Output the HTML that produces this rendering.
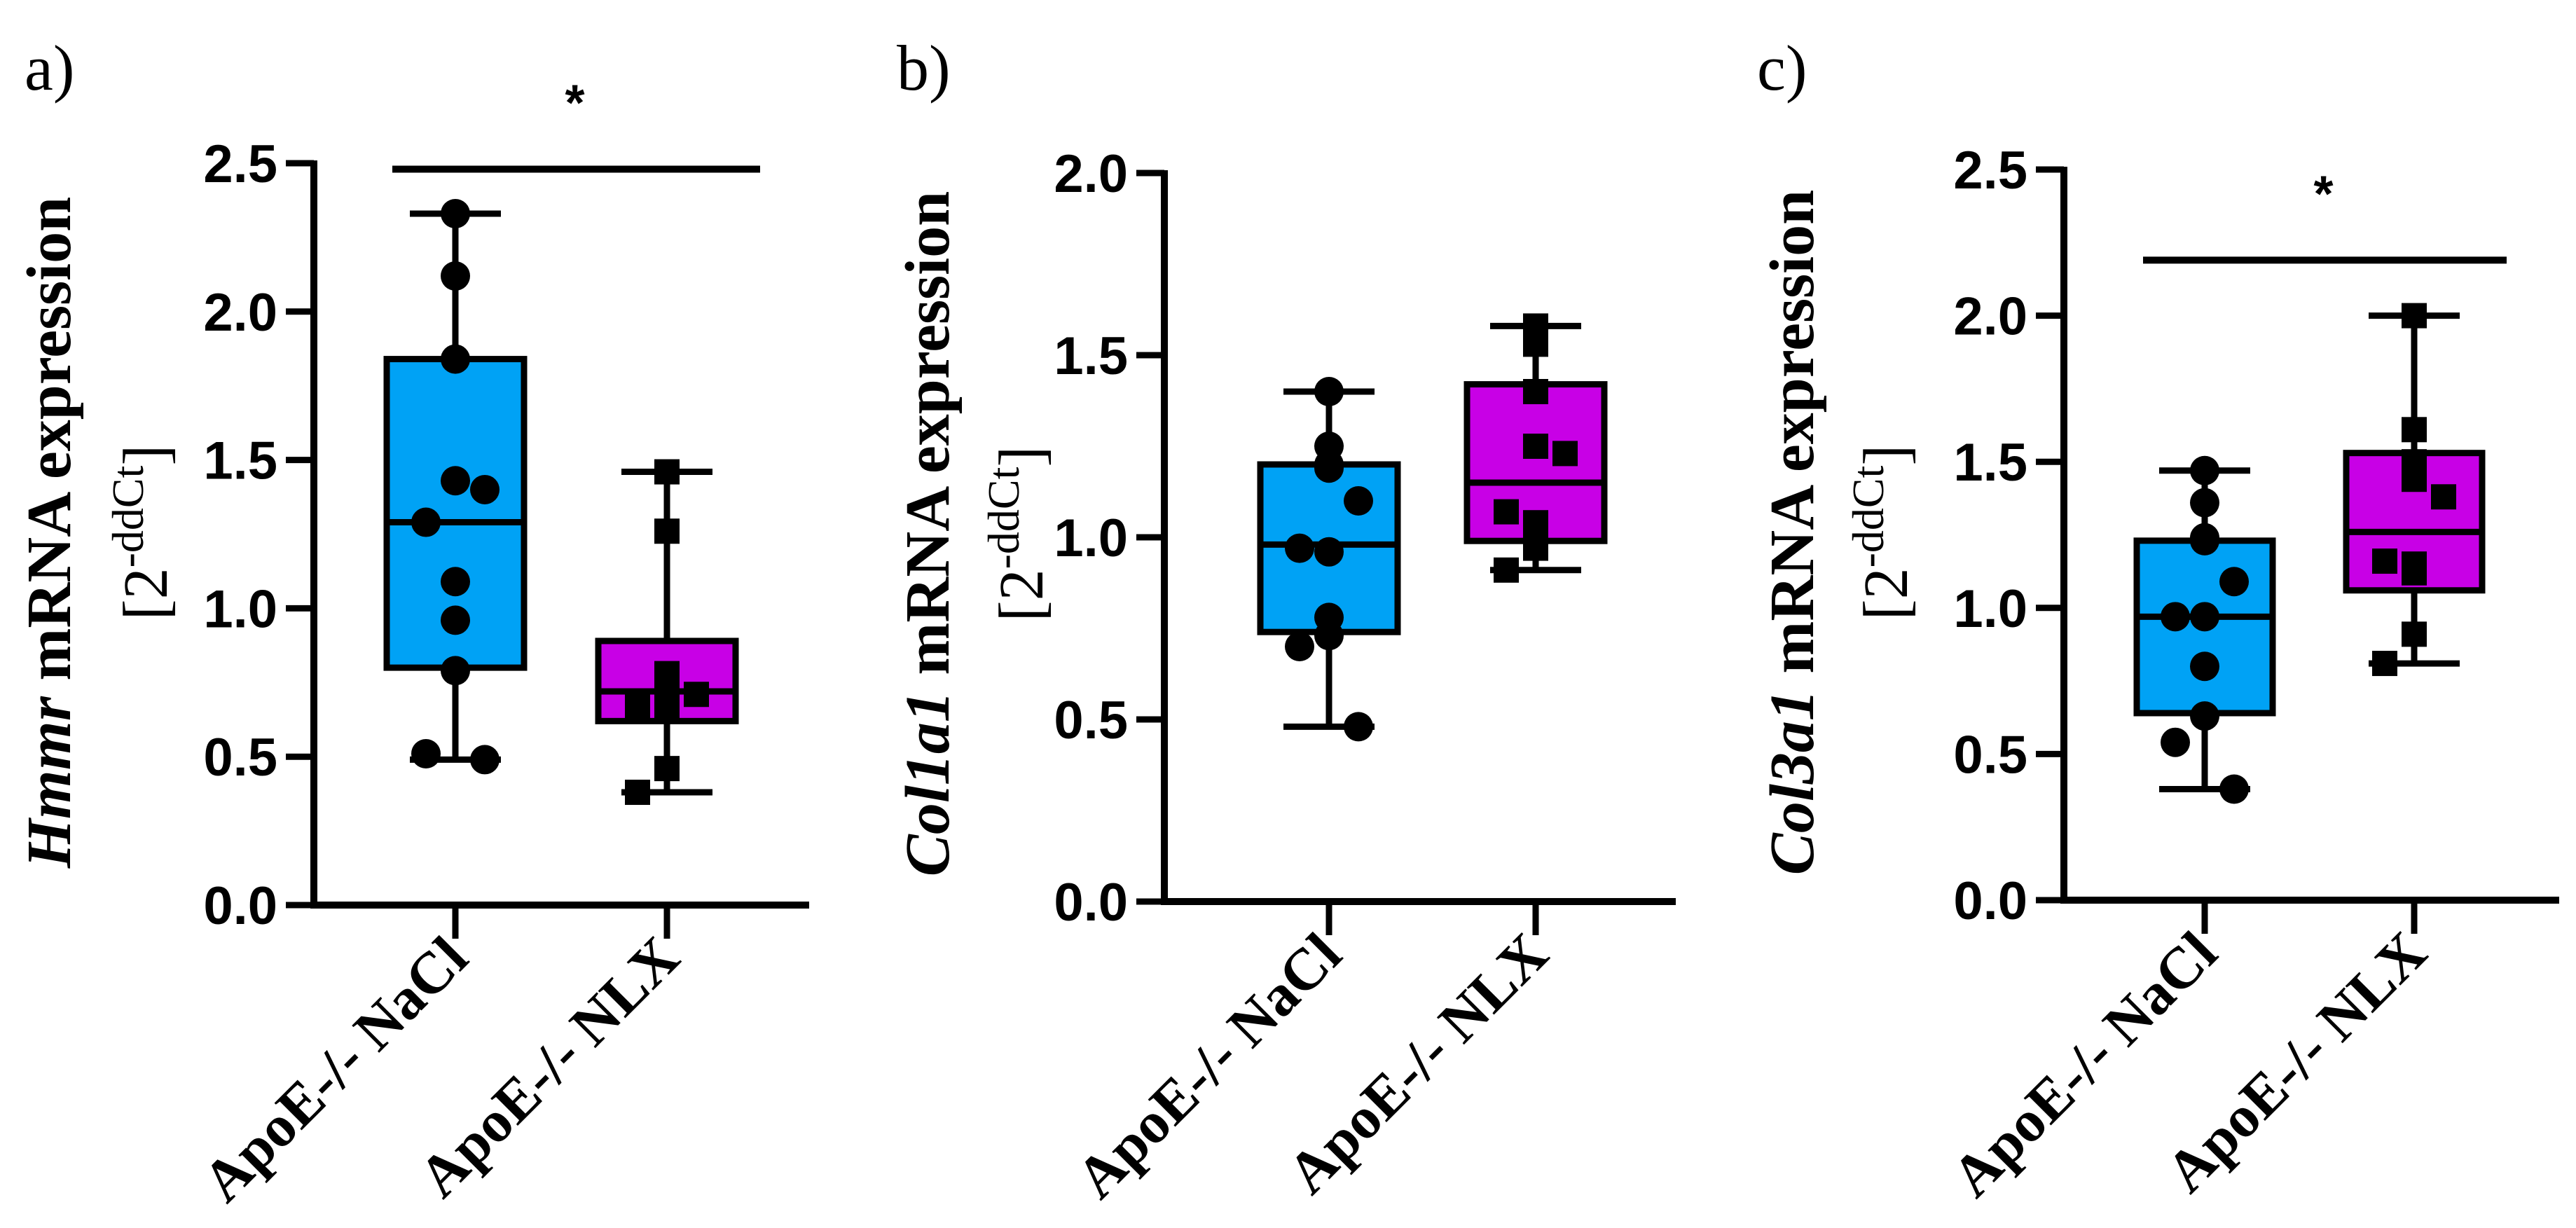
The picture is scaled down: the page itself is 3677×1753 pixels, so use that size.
<!DOCTYPE html>
<html><head><meta charset="utf-8">
<style>
html,body{margin:0;padding:0;background:#fff;}
svg{display:block;}
</style></head>
<body>
<svg id="fig" xmlns="http://www.w3.org/2000/svg" width="3677" height="1753" viewBox="0 0 3677 1753"></svg>
<script>
// ---- data ----
const categories = ["ApoE-/- NaCl", "ApoE-/- NLX"];
const panelLetters = ["a)", "b)", "c)"];
const geneNames = ["Hmmr", "Col1a1", "Col3a1"];
const yMaxes = [2.5, 2.0, 2.5];
const ticksA = ["0.0","0.5","1.0","1.5","2.0","2.5"];
const ticksB = ["0.0","0.5","1.0","1.5","2.0"];
const ticksC = ["0.0","0.5","1.0","1.5","2.0","2.5"];
// box stats: [whiskerLow, Q1, median, Q3, whiskerHigh]
const boxA_NaCl = [0.49, 0.80, 1.29, 1.84, 2.33];
const boxA_NLX  = [0.38, 0.62, 0.72, 0.89, 1.46];
const boxB_NaCl = [0.48, 0.74, 0.98, 1.20, 1.40];
const boxB_NLX  = [0.91, 0.99, 1.15, 1.42, 1.58];
const boxC_NaCl = [0.38, 0.64, 0.97, 1.23, 1.47];
const boxC_NLX  = [0.81, 1.06, 1.26, 1.53, 2.00];
// individual points
const ptsA_NaCl = [2.33, 2.12, 1.84, 1.43, 1.40, 1.29, 1.09, 0.96, 0.79, 0.51, 0.49];
const ptsA_NLX  = [1.46, 1.26, 0.78, 0.74, 0.71, 0.67, 0.67, 0.67, 0.46, 0.38];
const ptsB_NaCl = [1.40, 1.25, 1.20, 1.19, 1.10, 0.97, 0.96, 0.78, 0.73, 0.70, 0.48];
const ptsB_NLX  = [1.58, 1.53, 1.40, 1.25, 1.23, 1.07, 1.04, 1.00, 0.97, 0.91];
const ptsC_NaCl = [1.47, 1.36, 1.24, 1.23, 1.09, 0.97, 0.97, 0.80, 0.63, 0.54, 0.38];
const ptsC_NLX  = [2.00, 1.61, 1.50, 1.44, 1.38, 1.16, 1.15, 1.12, 0.91, 0.81];
// significance bars: [value, show]
const sigA = [2.48, 1];
const sigB = [0, 0];
const sigC = [2.19, 1];

// ---- layout ----
const NS = "http://www.w3.org/2000/svg";
const svg = document.getElementById("fig");
const layouts = [
  {ax:448, y0:1292, yTop:233, xEnd:1155, c1:650, c2:952, bw:196, letterX:35, t1:100, t2:238, cy:760, sigX1:560, sigX2:1085},
  {ax:1662, y0:1287, yTop:247, xEnd:2392, c1:1897, c2:2192, bw:196, letterX:1280, t1:1354, t2:1488, cy:762, sigX1:0, sigX2:0},
  {ax:2946, y0:1285, yTop:242, xEnd:3653, c1:3147, c2:3446, bw:194, letterX:2508, t1:2588, t2:2722, cy:760, sigX1:3059, sigX2:3578}
];
const panels = [
  {ticks:ticksA, boxes:[boxA_NaCl, boxA_NLX], pts:[ptsA_NaCl, ptsA_NLX], sig:sigA},
  {ticks:ticksB, boxes:[boxB_NaCl, boxB_NLX], pts:[ptsB_NaCl, ptsB_NLX], sig:sigB},
  {ticks:ticksC, boxes:[boxC_NaCl, boxC_NLX], pts:[ptsC_NaCl, ptsC_NLX], sig:sigC}
];
const fills = ["#00A2F5", "#C800E6"];

function mk(tag, attrs, parent){
  const e = document.createElementNS(NS, tag);
  for (const k in attrs) e.setAttribute(k, attrs[k]);
  (parent||svg).appendChild(e);
  return e;
}
const jit = [0, 0, 0, 0, 1, -1, 0, 0, 0, -1, 1, 0];

panels.forEach((p, pi) => {
  const L = layouts[pi];
  const g = mk("g", {});
  
  
  const yScale = v => L.y0 - (v / yMaxes[pi]) * (L.y0 - L.yTop);

  // panel letter
  const lt = mk("text", {x:L.letterX, y:128, "font-family":"Liberation Serif, serif", "font-size":92}, g);
  lt.textContent = panelLetters[pi];
  
  

  // y title
  const tt = mk("text", {transform:`translate(${L.t1},${L.cy}) rotate(-90)`, "text-anchor":"middle", "font-family":"Liberation Serif, serif", "font-size":90, "font-weight":"bold"}, g);
  
  
  const ts1 = mk("tspan", {"font-style":"italic"}, tt); ts1.textContent = geneNames[pi];
  const ts2 = mk("tspan", {}, tt); ts2.textContent = " mRNA expression";
  const tu = mk("text", {transform:`translate(${L.t2},${L.cy}) rotate(-90)`, "text-anchor":"middle", "font-family":"Liberation Serif, serif", "font-size":90}, g);
  
  
  const u1 = mk("tspan", {}, tu); u1.textContent = "[2";
  const u2 = mk("tspan", {dy:-34, "font-size":64}, tu); u2.textContent = "-ddCt";
  const u4 = mk("tspan", {dy:34}, tu); u4.textContent = "]";

  // y axis
  const yAxis = mk("line", {x1:L.ax, y1:L.yTop-4, x2:L.ax, y2:L.y0+5, stroke:"#000", "stroke-width":10}, g);
  
  
  p.ticks.forEach(t => {
    const y = yScale(parseFloat(t));
    const tk = mk("line", {x1:L.ax-40, y1:y, x2:L.ax, y2:y, stroke:"#000", "stroke-width":9}, g);
    
    
    const tl = mk("text", {x:L.ax-52, y:y+27, "text-anchor":"end", "font-family":"Liberation Sans, sans-serif", "font-weight":"bold", "font-size":76}, g);
    tl.textContent = t;
    
    
  });
  // x axis
  const xAxis = mk("line", {x1:L.ax-5, y1:L.y0, x2:L.xEnd, y2:L.y0, stroke:"#000", "stroke-width":10}, g);
  
  

  const cxs = [L.c1, L.c2];
  categories.forEach((c, ci) => {
    const cx = cxs[ci];
    const xt = mk("line", {x1:cx, y1:L.y0, x2:cx, y2:L.y0+48, stroke:"#000", "stroke-width":9}, g);
    
    
    const xl = mk("text", {transform:`translate(${cx+22},${L.y0+80}) rotate(-45)`, "text-anchor":"end", "font-family":"Liberation Serif, serif", "font-weight":"bold", "font-size":84}, g);
    xl.textContent = c;
    
    

    const b = p.boxes[ci];
    const half = L.bw/2, cap = 65;
    const wl = mk("line", {x1:cx, y1:yScale(b[0]), x2:cx, y2:yScale(b[4]), stroke:"#000", "stroke-width":9}, g);
    
    
    [b[0], b[4]].forEach(v => {
      const cl = mk("line", {x1:cx-cap, y1:yScale(v), x2:cx+cap, y2:yScale(v), stroke:"#000", "stroke-width":9}, g);
      
      
    });
    const rect = mk("rect", {x:cx-half, y:yScale(b[3]), width:L.bw, height:yScale(b[1])-yScale(b[3]), fill:fills[ci], stroke:"#000", "stroke-width":9}, g);
    
    
    const md = mk("line", {x1:cx-half, y1:yScale(b[2]), x2:cx+half, y2:yScale(b[2]), stroke:"#000", "stroke-width":9}, g);
    
    

    p.pts[ci].forEach((v, i) => {
      const off = jit[i % jit.length] * 42;
      const y = yScale(v);
      let m;
      if (ci === 0) {
        m = mk("circle", {cx:cx+off, cy:y, r:21, fill:"#000"}, g);
      } else {
        m = mk("rect", {x:cx+off-18, y:y-18, width:36, height:36, fill:"#000"}, g);
      }
      
      
    });
  });

  if (p.sig[1]) {
    const sy = yScale(p.sig[0]);
    const sl = mk("line", {x1:L.sigX1, y1:sy, x2:L.sigX2, y2:sy, stroke:"#000", "stroke-width":10}, g);
    
    
    const st = mk("text", {x:(L.sigX1+L.sigX2)/2 - 2, y:sy-70, "text-anchor":"middle", "font-family":"Liberation Sans, sans-serif", "font-weight":"bold", "font-size":72}, g);
    st.textContent = "*";
    
    
  }
});
</script>
</body></html>
